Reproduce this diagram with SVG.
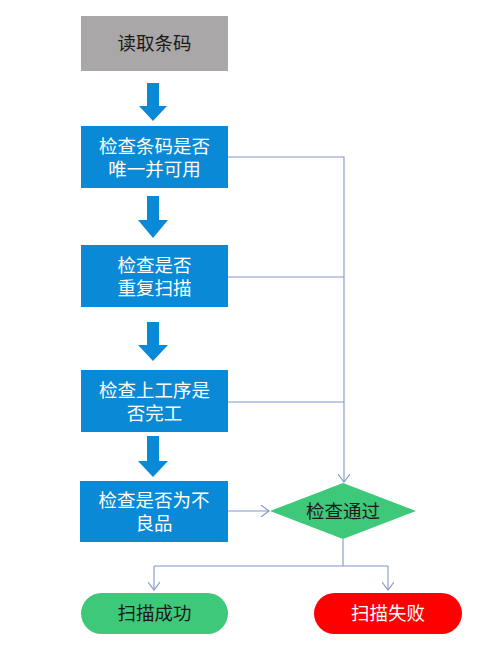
<svg xmlns="http://www.w3.org/2000/svg" width="499" height="656" viewBox="0 0 499 656">
<defs>
<style>
.box{fill:#0a8ad6}
.t{font-family:"Noto Sans CJK SC","Liberation Sans",sans-serif;font-size:18.5px;text-anchor:middle}
.w{fill:#ffffff}
.k{fill:#1a1a1a}
.ln{fill:none;stroke:#8096c8;stroke-width:1.1}
.bar{fill:#0a8ad6}
</style>
<marker id="chev" markerWidth="12" markerHeight="12" refX="10" refY="6" orient="auto" markerUnits="userSpaceOnUse">
<path d="M2,0 L10,6 L2,12" fill="none" stroke="#8096c8" stroke-width="1.1"/>
</marker>
</defs>
<rect width="499" height="656" fill="#ffffff"/>
<g id="connectors">
<path class="bar" d="M147,83 H159 V106 H167 L153,121 L139,106 H147 Z"/>
<path class="bar" d="M147,196 H159 V220 H168 L153,238 L138,220 H147 Z"/>
<path class="bar" d="M147,322 H159 V345 H168 L153,361 L138,345 H147 Z"/>
<path class="bar" d="M147,436 H159 V461 H168 L153,477 L138,461 H147 Z"/>
<path class="ln" d="M228,157 H344 V482" marker-end="url(#chev)"/>
<path class="ln" d="M228,277 H344"/>
<path class="ln" d="M228,402 H344"/>
<path class="ln" d="M228,511 H269" marker-end="url(#chev)"/>
<path class="ln" d="M343,539 V566"/>
<path class="ln" d="M154,566 H388"/>
<path class="ln" d="M154,566 V590" marker-end="url(#chev)"/>
<path class="ln" d="M388,566 V590" marker-end="url(#chev)"/>
</g>
<g id="n1">
<rect x="81" y="16" width="147" height="55" fill="#a9a7a8"/>
<text class="t k" x="154.5" y="50">读取条码</text>
</g>
<g id="n2">
<rect class="box" x="81" y="126" width="147" height="62"/>
<text class="t w" x="154.5" y="153">检查条码是否</text>
<text class="t w" x="154.5" y="176">唯一并可用</text>
</g>
<g id="n3">
<rect class="box" x="81" y="245" width="147" height="62"/>
<text class="t w" x="154.5" y="272">检查是否</text>
<text class="t w" x="154.5" y="295">重复扫描</text>
</g>
<g id="n4">
<rect class="box" x="81" y="370" width="147" height="62"/>
<text class="t w" x="154.5" y="397">检查上工序是</text>
<text class="t w" x="154.5" y="420">否完工</text>
</g>
<g id="n5">
<rect class="box" x="80" y="481" width="148" height="61"/>
<text class="t w" x="154" y="507">检查是否为不</text>
<text class="t w" x="154" y="530">良品</text>
</g>
<g id="n6">
<polygon points="343,483 416,511 343,539 270,511" fill="#3ec87a"/>
<text class="t k" x="343" y="518">检查通过</text>
</g>
<g id="n7">
<rect x="81" y="593" width="147" height="41" rx="20.5" fill="#3ec87a"/>
<text class="t k" x="154.5" y="620">扫描成功</text>
</g>
<g id="n8">
<rect x="314" y="593" width="148" height="41" rx="20.5" fill="#fe0000"/>
<text class="t w" x="388" y="620">扫描失败</text>
</g>
</svg>
